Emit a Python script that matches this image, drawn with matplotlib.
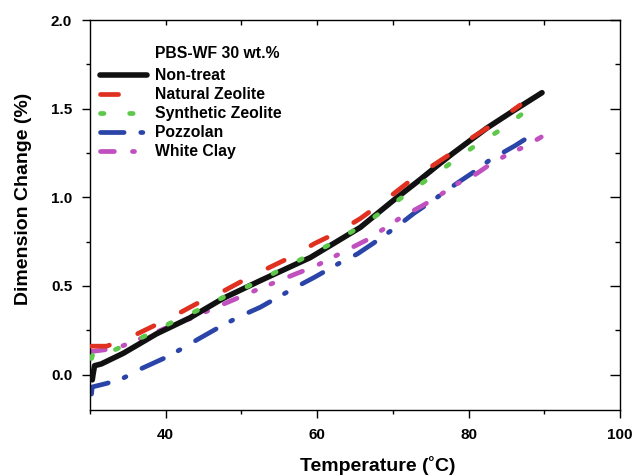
import matplotlib

matplotlib.use("Agg")
import matplotlib.pyplot as plt
from matplotlib.ticker import MultipleLocator, FixedLocator

plt.rcParams["font.family"] = ["Liberation Sans", "DejaVu Sans"]
plt.rcParams["font.weight"] = "bold"
plt.rcParams["lines.scale_dashes"] = False

# values
nontreat_t = [30.3, 30.4, 30.6, 31.5, 34.4, 38.8, 43.2, 47.6, 52.5, 59.1, 65.7, 70.0,
              73.6, 76.2, 78.0, 82.4, 86.0, 89.7]
nontreat_d = [-0.03, 0.00, 0.05, 0.06, 0.12, 0.23, 0.32, 0.43, 0.53, 0.66, 0.83, 0.98,
              1.10, 1.19, 1.25, 1.39, 1.49, 1.59]

natural_t = [30.2, 32.2, 35.3, 38.2, 41.5, 44.1, 47.6, 50.2, 53.5, 56.4, 59.7, 62.6,
             65.7, 68.6, 71.9, 74.6, 77.8, 80.6, 83.9, 86.8]
natural_d = [0.16, 0.16, 0.21, 0.27, 0.34, 0.40, 0.47, 0.53, 0.60, 0.66, 0.74, 0.80,
             0.88, 0.97, 1.08, 1.16, 1.25, 1.34, 1.43, 1.52]

synthetic_t = [30.2, 30.5, 33.3, 36.9, 40.6, 44.1, 47.8, 51.5, 55.1, 58.8, 62.4, 65.9,
               69.6, 73.2, 76.9, 80.5, 84.2, 87.7]
synthetic_d = [0.09, 0.13, 0.14, 0.21, 0.29, 0.36, 0.44, 0.51, 0.59, 0.67, 0.75, 0.84,
               0.95, 1.06, 1.17, 1.28, 1.38, 1.49]

pozzolan_t = [30.2, 30.3, 32.2, 34.4, 36.6, 40.2, 42.3, 44.3, 47.6, 49.9, 52.5, 55.4,
              57.5, 59.7, 63.0, 65.3, 67.4, 70.7, 72.8, 75.2, 78.5, 80.6, 82.8, 86.1, 88.3]
pozzolan_d = [-0.11, -0.07, -0.05, -0.02, 0.03, 0.10, 0.15, 0.20, 0.28, 0.33, 0.38, 0.45,
              0.50, 0.55, 0.63, 0.68, 0.74, 0.84, 0.91, 0.98, 1.08, 1.14, 1.21, 1.29, 1.35]

clay_t = [30.2, 32.0, 34.2, 38.8, 41.5, 43.5, 45.6, 50.5, 52.7, 57.3, 59.7, 62.0, 66.6,
          69.1, 71.2, 73.8, 75.8, 78.2, 80.6, 83.0, 85.1, 87.6, 89.6]
clay_d = [0.13, 0.14, 0.16, 0.24, 0.29, 0.32, 0.36, 0.45, 0.49, 0.57, 0.61, 0.66, 0.76,
          0.83, 0.89, 0.95, 1.00, 1.07, 1.12, 1.19, 1.24, 1.29, 1.34]

x_major = [40, 60, 80, 100]
x_minor = [30, 50, 70, 90]
x_top = [40, 50, 60, 70, 80, 90]
y_minor = [0.25, 0.75, 1.25, 1.75]

fig = plt.figure(figsize=(6.32, 4.75), dpi=100)
ax = fig.add_axes([90 / 632, 65 / 475, 530 / 632, 390 / 475])

lw = 3.4
ax.plot(nontreat_t, nontreat_d, color="#111111", lw=lw + 0.6, solid_capstyle="round",
        label="Non-treat", zorder=3)
ax.plot(natural_t, natural_d, color="#e03020", lw=lw, dash_capstyle="round",
        dashes=(13, 22), label="Natural Zeolite", zorder=4)
ax.plot(synthetic_t, synthetic_d, color="#5ec84a", lw=lw, dash_capstyle="round",
        dashes=(2.5, 18.5), label="Synthetic Zeolite", zorder=4)
ax.plot(pozzolan_t, pozzolan_d, color="#2a44a8", lw=lw, dash_capstyle="round",
        dashes=(17, 12, 1.5, 13), label="Pozzolan", zorder=2)
ax.plot(clay_t, clay_d, color="#c04fbf", lw=lw, dash_capstyle="round",
        dashes=(10, 13, 1.5, 12, 1.5, 13), label="White Clay", zorder=2)

ax.set_xlim(30, 100)
ax.set_ylim(-0.2, 2.0)
ax.xaxis.set_major_locator(FixedLocator(x_major))
ax.xaxis.set_minor_locator(FixedLocator(x_minor))
ax.yaxis.set_major_locator(MultipleLocator(0.5))
ax.yaxis.set_minor_locator(FixedLocator(y_minor))
ax.yaxis.set_major_formatter(plt.FormatStrFormatter("%.1f"))

ax.spines["top"].set_visible(False)
ax.spines["right"].set_visible(False)
for side in ("left", "bottom"):
    ax.spines[side].set_linewidth(1.0)
ax.tick_params(which="major", length=5.8, width=1.0, labelsize=11, pad=7)
ax.tick_params(which="minor", length=3, width=1.0)

# right spine with inward ticks
sec = ax.secondary_yaxis("right")
sec.spines["right"].set_linewidth(1.0)
sec.yaxis.set_major_locator(MultipleLocator(0.5))
sec.yaxis.set_minor_locator(FixedLocator(y_minor))
sec.tick_params(which="major", direction="in", length=7, width=1.0, labelright=False)
sec.tick_params(which="minor", direction="in", length=3.6, width=1.0)

# top spine with inward ticks
top = ax.secondary_xaxis("top")
top.spines["top"].set_linewidth(1.0)
top.xaxis.set_major_locator(FixedLocator(x_top))
top.xaxis.set_minor_locator(FixedLocator([]))
top.tick_params(which="major", direction="in", length=3.6, width=1.0, labeltop=False)

ax.set_xlabel("Temperature (˚C)", fontsize=14, fontweight="bold")
ax.set_ylabel("Dimension Change (%)", fontsize=14, fontweight="bold")
ax.xaxis.set_label_coords(0.543, -0.117)
ax.yaxis.set_label_coords(-0.109, 0.541)

ax.text(0.123, 0.915, "PBS-WF 30 wt.%", transform=ax.transAxes, fontsize=11.3,
        fontweight="bold", va="center", ha="left")
leg = ax.legend(loc="upper left", bbox_to_anchor=(0.019, 0.876), frameon=False,
                fontsize=11.3, handlelength=3.0, handletextpad=0.5,
                labelspacing=0.25, borderpad=0, borderaxespad=0)

fig.savefig("out.png", dpi=100)
